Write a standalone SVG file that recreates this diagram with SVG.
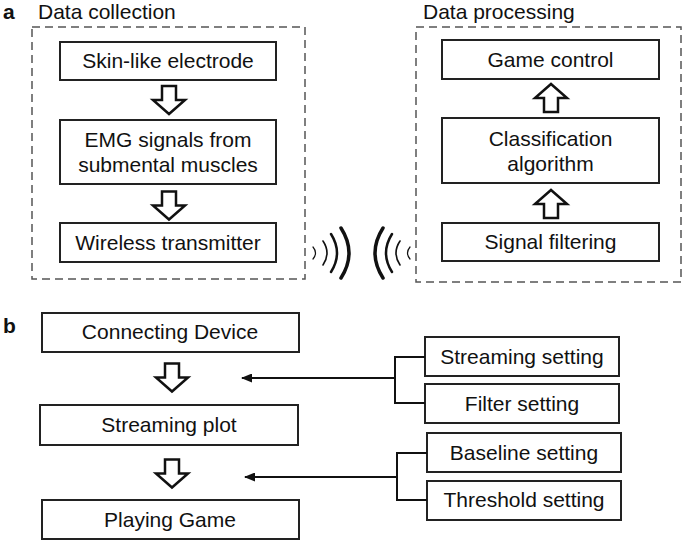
<svg xmlns="http://www.w3.org/2000/svg" width="685" height="543" viewBox="0 0 685 543">
<style>
text{font-family:"Liberation Sans",Arial,sans-serif;font-size:21px;fill:#111}
.lbl{font-weight:bold}
.c{text-anchor:middle}
.box{fill:#fff;stroke:#222;stroke-width:2}
.dash{fill:none;stroke:#555;stroke-width:1.5;stroke-dasharray:8 5}
.ha{fill:#fff;stroke:#111;stroke-width:2.5;stroke-linejoin:miter}
.ln{fill:none;stroke:#111;stroke-width:2}
.wv{fill:none;stroke:#111;stroke-linecap:round}
</style>
<defs>
<path id="harrow" d="M-7,-14 L7,-14 L7,0 L16,0 L0,14 L-16,0 L-7,0 Z"/>
<marker id="tri" viewBox="0 0 11 9" refX="10" refY="4.5" markerWidth="11" markerHeight="9" markerUnits="userSpaceOnUse" orient="auto">
<path d="M0,0 L11,4.5 L0,9 Z" fill="#111"/>
</marker>
</defs>
<rect width="685" height="543" fill="#fff"/>

<text class="lbl" x="3" y="19">a</text>
<text x="38" y="19">Data collection</text>
<text x="423" y="19">Data processing</text>
<rect class="dash" x="32" y="27" width="273" height="252"/>
<rect class="dash" x="416" y="27" width="265" height="255"/>

<g id="skin"><rect class="box" x="60" y="42" width="216" height="38"/><text class="c" x="168" y="68">Skin-like electrode</text></g>
<g id="emg"><rect class="box" x="60" y="120" width="216" height="64"/><text class="c" x="168" y="147">EMG signals from</text><text class="c" x="168" y="172">submental muscles</text></g>
<g id="wireless"><rect class="box" x="60" y="223" width="216" height="39"/><text class="c" x="168" y="250">Wireless transmitter</text></g>

<g id="game"><rect class="box" x="442" y="40" width="217" height="39"/><text class="c" x="550.5" y="67">Game control</text></g>
<g id="classif"><rect class="box" x="442" y="118" width="217" height="65"/><text class="c" x="550.5" y="146">Classification</text><text class="c" x="550.5" y="171">algorithm</text></g>
<g id="filter"><rect class="box" x="442" y="223" width="217" height="38"/><text class="c" x="550.5" y="249">Signal filtering</text></g>

<g id="waves">
<path class="wv" stroke-width="3.5" d="M341,228 Q357,253 341,278"/>
<path class="wv" stroke-width="2.5" d="M331,234 Q343,253 331,272"/>
<path class="wv" stroke-width="1.6" d="M323,241 Q331,253 323,265"/>
<path class="wv" stroke-width="1.2" d="M313,247 Q318,253 313,259"/>
<path class="wv" stroke-width="3.5" d="M383,228 Q367,253 383,278"/>
<path class="wv" stroke-width="2.5" d="M392,234 Q380,253 392,272"/>
<path class="wv" stroke-width="1.6" d="M400,241 Q392,253 400,265"/>
<path class="wv" stroke-width="1.2" d="M410,247 Q405,253 410,259"/>
</g>

<text class="lbl" x="3" y="333">b</text>
<g id="connect"><rect class="box" x="42" y="313" width="257" height="39"/><text class="c" x="170" y="339">Connecting Device</text></g>
<g id="plot"><rect class="box" x="40" y="405" width="258" height="40"/><text class="c" x="169" y="432">Streaming plot</text></g>
<g id="play"><rect class="box" x="42" y="500" width="257" height="39"/><text class="c" x="170" y="527">Playing Game</text></g>

<g id="streamset"><rect class="box" x="425" y="337" width="194" height="39"/><text class="c" x="522" y="364">Streaming setting</text></g>
<g id="filterset"><rect class="box" x="425" y="384" width="194" height="39"/><text class="c" x="522" y="411">Filter setting</text></g>
<g id="baseset"><rect class="box" x="427" y="433" width="194" height="39"/><text class="c" x="524" y="460">Baseline setting</text></g>
<g id="threshset"><rect class="box" x="427" y="481" width="194" height="39"/><text class="c" x="524" y="507">Threshold setting</text></g>

<g id="connectors">
<use href="#harrow" class="ha" transform="translate(169,100)"/>
<use href="#harrow" class="ha" transform="translate(169,205.5)"/>
<use href="#harrow" class="ha" transform="translate(551,98) rotate(180)"/>
<use href="#harrow" class="ha" transform="translate(551,204) rotate(180)"/>
<use href="#harrow" class="ha" transform="translate(172,377.5)"/>
<use href="#harrow" class="ha" transform="translate(172,473.5)"/>
<path class="ln" d="M425,357 H395 V403 H425"/>
<path class="ln" d="M395,378 H242" marker-end="url(#tri)"/>
<path class="ln" d="M427,453 H397 V500 H427"/>
<path class="ln" d="M397,477 H245" marker-end="url(#tri)"/>
</g>
</svg>
